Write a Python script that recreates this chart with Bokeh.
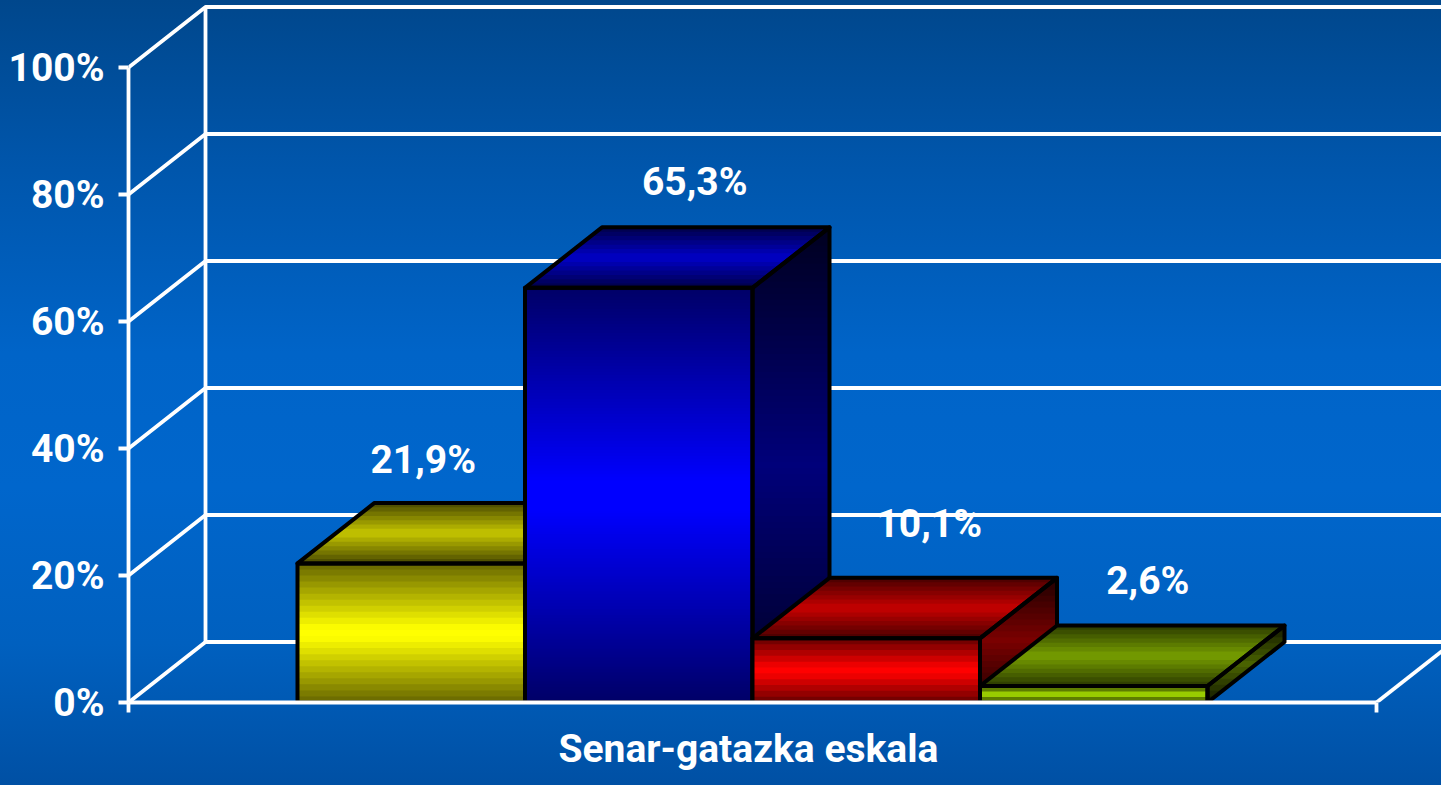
import numpy as np
from bokeh.core.properties import value
from bokeh.embed import file_html
from bokeh.models import ColumnDataSource, FixedTicker, LinearAxis, Range1d, Title
from bokeh.plotting import figure
from bokeh.resources import INLINE

# ---- data -------------------------------------------------------------
categories = ["a", "b", "c", "d"]
percent_values = [21.9, 65.3, 10.1, 2.6]
percent_labels = ["21,9%", "65,3%", "10,1%", "2,6%"]
y_ticks = [0, 20, 40, 60, 80, 100]
y_tick_labels = ["0%", "20%", "40%", "60%", "80%", "100%"]
axis_title = "Senar-gatazka eskala"

# ---- style ------------------------------------------------------------
FONT = "Roboto"
FONT_SIZE = "39px"
base_colors = [(255, 255, 0), (0, 0, 255), (255, 0, 0), (153, 204, 0)]
label_dx = [12, 56, 63, 54]
label_dy = [-103, -106, -114, -104.5]

WIDTH, HEIGHT = 1441, 785
LEFT, BOTTOM = 128, 83
PX_Y = 6.35           # pixels per percent
PX_X = 227.5          # pixels per bar
X0_PX = 297 - 128     # first bar's distance from the value axis
FLOOR_W = (1376 - 128) / PX_X
x_start = 0.0 - X0_PX / PX_X
x_end = x_start + FLOOR_W
x_max = x_start + (WIDTH - LEFT) / PX_X
y_max = (HEIGHT - BOTTOM) / PX_Y
DX = 77 / PX_X        # depth of the 3D box
DY = 60.5 / PX_Y

TEMPLATE = """
{% block postamble %}<style>html,body{margin:0;padding:0;overflow:hidden;background:#0060bf}</style>{% endblock %}
"""

p = figure(width=WIDTH, height=HEIGHT, x_range=Range1d(x_start, x_max), y_range=Range1d(0, y_max),
           output_backend="svg", toolbar_location=None, x_axis_location=None, y_axis_location=None,
           min_border_left=LEFT, min_border_bottom=BOTTOM, min_border_right=0, min_border_top=0,
           background_fill_color=None, border_fill_color=None, outline_line_color=None)
p.grid.visible = False
p.styles = {"background": "linear-gradient(180deg,#00478c 0%,#0055aa 20%,#0064c8 45%,#0066cc 62%,"
                          "#0060bf 82%,#0050a4 100%)"}

# ---- walls ------------------------------------------------------------
WHITE_W = 3.8
back_left = x_start + DX
xs, ys = [], []
for v in y_ticks:
    xs.append([x_start, back_left, x_max + DX])
    ys.append([v, v + DY, v + DY])
xs.append([back_left, back_left]); ys.append([DY, 100 + DY])
xs.append([x_end, x_end + DX]); ys.append([0, DY])
p.multi_line(xs, ys, line_color="white", line_width=WHITE_W)


def shade(rgb, level):
    return "#%02x%02x%02x" % tuple(int(round(c * level)) for c in rgb)


def band_levels(n, edge, mid):
    t = (np.arange(n) + 0.5) / n
    return edge + (mid - edge) * (1 - np.abs(2 * t - 1))


def clip_band(poly, lo, hi):
    """Sutherland-Hodgman clip of a polygon against lo <= y <= hi."""
    def clip(points, inside, cut):
        out = []
        for a, b in zip(points, points[1:] + points[:1]):
            if inside(a):
                out.append(a)
            if inside(a) != inside(b):
                t = (cut - a[1]) / (b[1] - a[1])
                out.append((a[0] + t * (b[0] - a[0]), cut))
        return out
    res = clip(poly, lambda q: q[1] >= lo, lo)
    if res:
        res = clip(res, lambda q: q[1] <= hi, hi)
    return res


OUTLINE = 4
for i, (val, rgb) in enumerate(zip(percent_values, base_colors)):
    l, r = float(i), float(i + 1)
    # Every band reaches down to the face's start and the tallest is painted first,
    # so no seams show between neighbouring bands.
    # side face: horizontal bands clipped to the parallelogram
    side = [(r, 0.0), (r + DX, DY), (r + DX, val + DY), (r, val)]
    n = max(4, int(round((val + DY) * PX_Y / 6)))
    edges = np.linspace(0, val + DY, n + 1)
    levels = band_levels(n, 0.12, 0.48)
    sx, sy, sc = [], [], []
    for k in range(n - 1, -1, -1):
        piece = clip_band(side, 0.0, edges[k + 1])
        if piece:
            sx.append([q[0] for q in piece]); sy.append([q[1] for q in piece])
            sc.append(shade(rgb, levels[k]))
    p.patches(sx, sy, fill_color=sc, line_color=None)
    # top face
    n = 14
    t = np.linspace(0, 1, n + 1)
    levels = band_levels(n, 0.28, 0.78)
    order = range(n - 1, -1, -1)
    p.patches([[l, r, r + DX * t[k + 1], l + DX * t[k + 1]] for k in order],
              [[val, val, val + DY * t[k + 1], val + DY * t[k + 1]] for k in order],
              fill_color=[shade(rgb, levels[k]) for k in order], line_color=None)
    # front face
    n = max(3, int(round(val * PX_Y / (6 if val < 30 else 3))))
    edges = np.linspace(0, val, n + 1)
    levels = band_levels(n, 0.40, 1.04)
    order = range(n - 1, -1, -1)
    p.quad(left=l, right=r, bottom=0, top=[edges[k + 1] for k in order],
           fill_color=[shade(rgb, min(levels[k], 1.0)) for k in order], line_color=None)
    # outlines
    p.patches([[q[0] for q in side], [l, r, r + DX, l + DX], [l, r, r, l]],
              [[q[1] for q in side], [val, val, val + DY, val + DY], [0, 0, val, val]],
              fill_color=None, line_color="black", line_width=OUTLINE, line_join="round")

# ---- value labels -----------------------------------------------------
src = ColumnDataSource(dict(x=[i + 0.5 for i in range(len(categories))], y=percent_values,
                            text=percent_labels, dx=label_dx, dy=label_dy))
p.text("x", "y", text="text", source=src, x_offset="dx", y_offset="dy", text_color="white",
       text_align="center", text_baseline="middle", text_font=value(FONT), text_font_style="bold",
       text_font_size=FONT_SIZE)

# ---- axes -------------------------------------------------------------
yaxis = LinearAxis(ticker=FixedTicker(ticks=y_ticks), bounds=(0, 100),
                   major_label_overrides={v: s for v, s in zip(y_ticks, y_tick_labels)},
                   major_tick_in=0, major_tick_out=10, minor_tick_line_color=None,
                   major_tick_line_color="white", major_tick_line_width=WHITE_W,
                   axis_line_color="white", axis_line_width=WHITE_W, major_label_standoff=14,
                   major_label_text_color="white", major_label_text_font=FONT,
                   major_label_text_font_style="bold", major_label_text_font_size=FONT_SIZE)
p.add_layout(yaxis, "left")
xaxis = LinearAxis(ticker=FixedTicker(ticks=[x_start, x_end]), bounds=(x_start, x_end),
                   major_label_overrides={x_start: "", x_end: ""},
                   major_tick_in=0, major_tick_out=10, minor_tick_line_color=None,
                   major_tick_line_color="white", major_tick_line_width=WHITE_W,
                   axis_line_color="white", axis_line_width=WHITE_W)
p.add_layout(xaxis, "below")
p.add_layout(Title(text=axis_title, align="left", offset=430, standoff=23, text_color="white",
                   text_font=FONT, text_font_style="bold", text_font_size=FONT_SIZE), "below")

open("out.html", "w").write(file_html(p, INLINE, template=TEMPLATE))
